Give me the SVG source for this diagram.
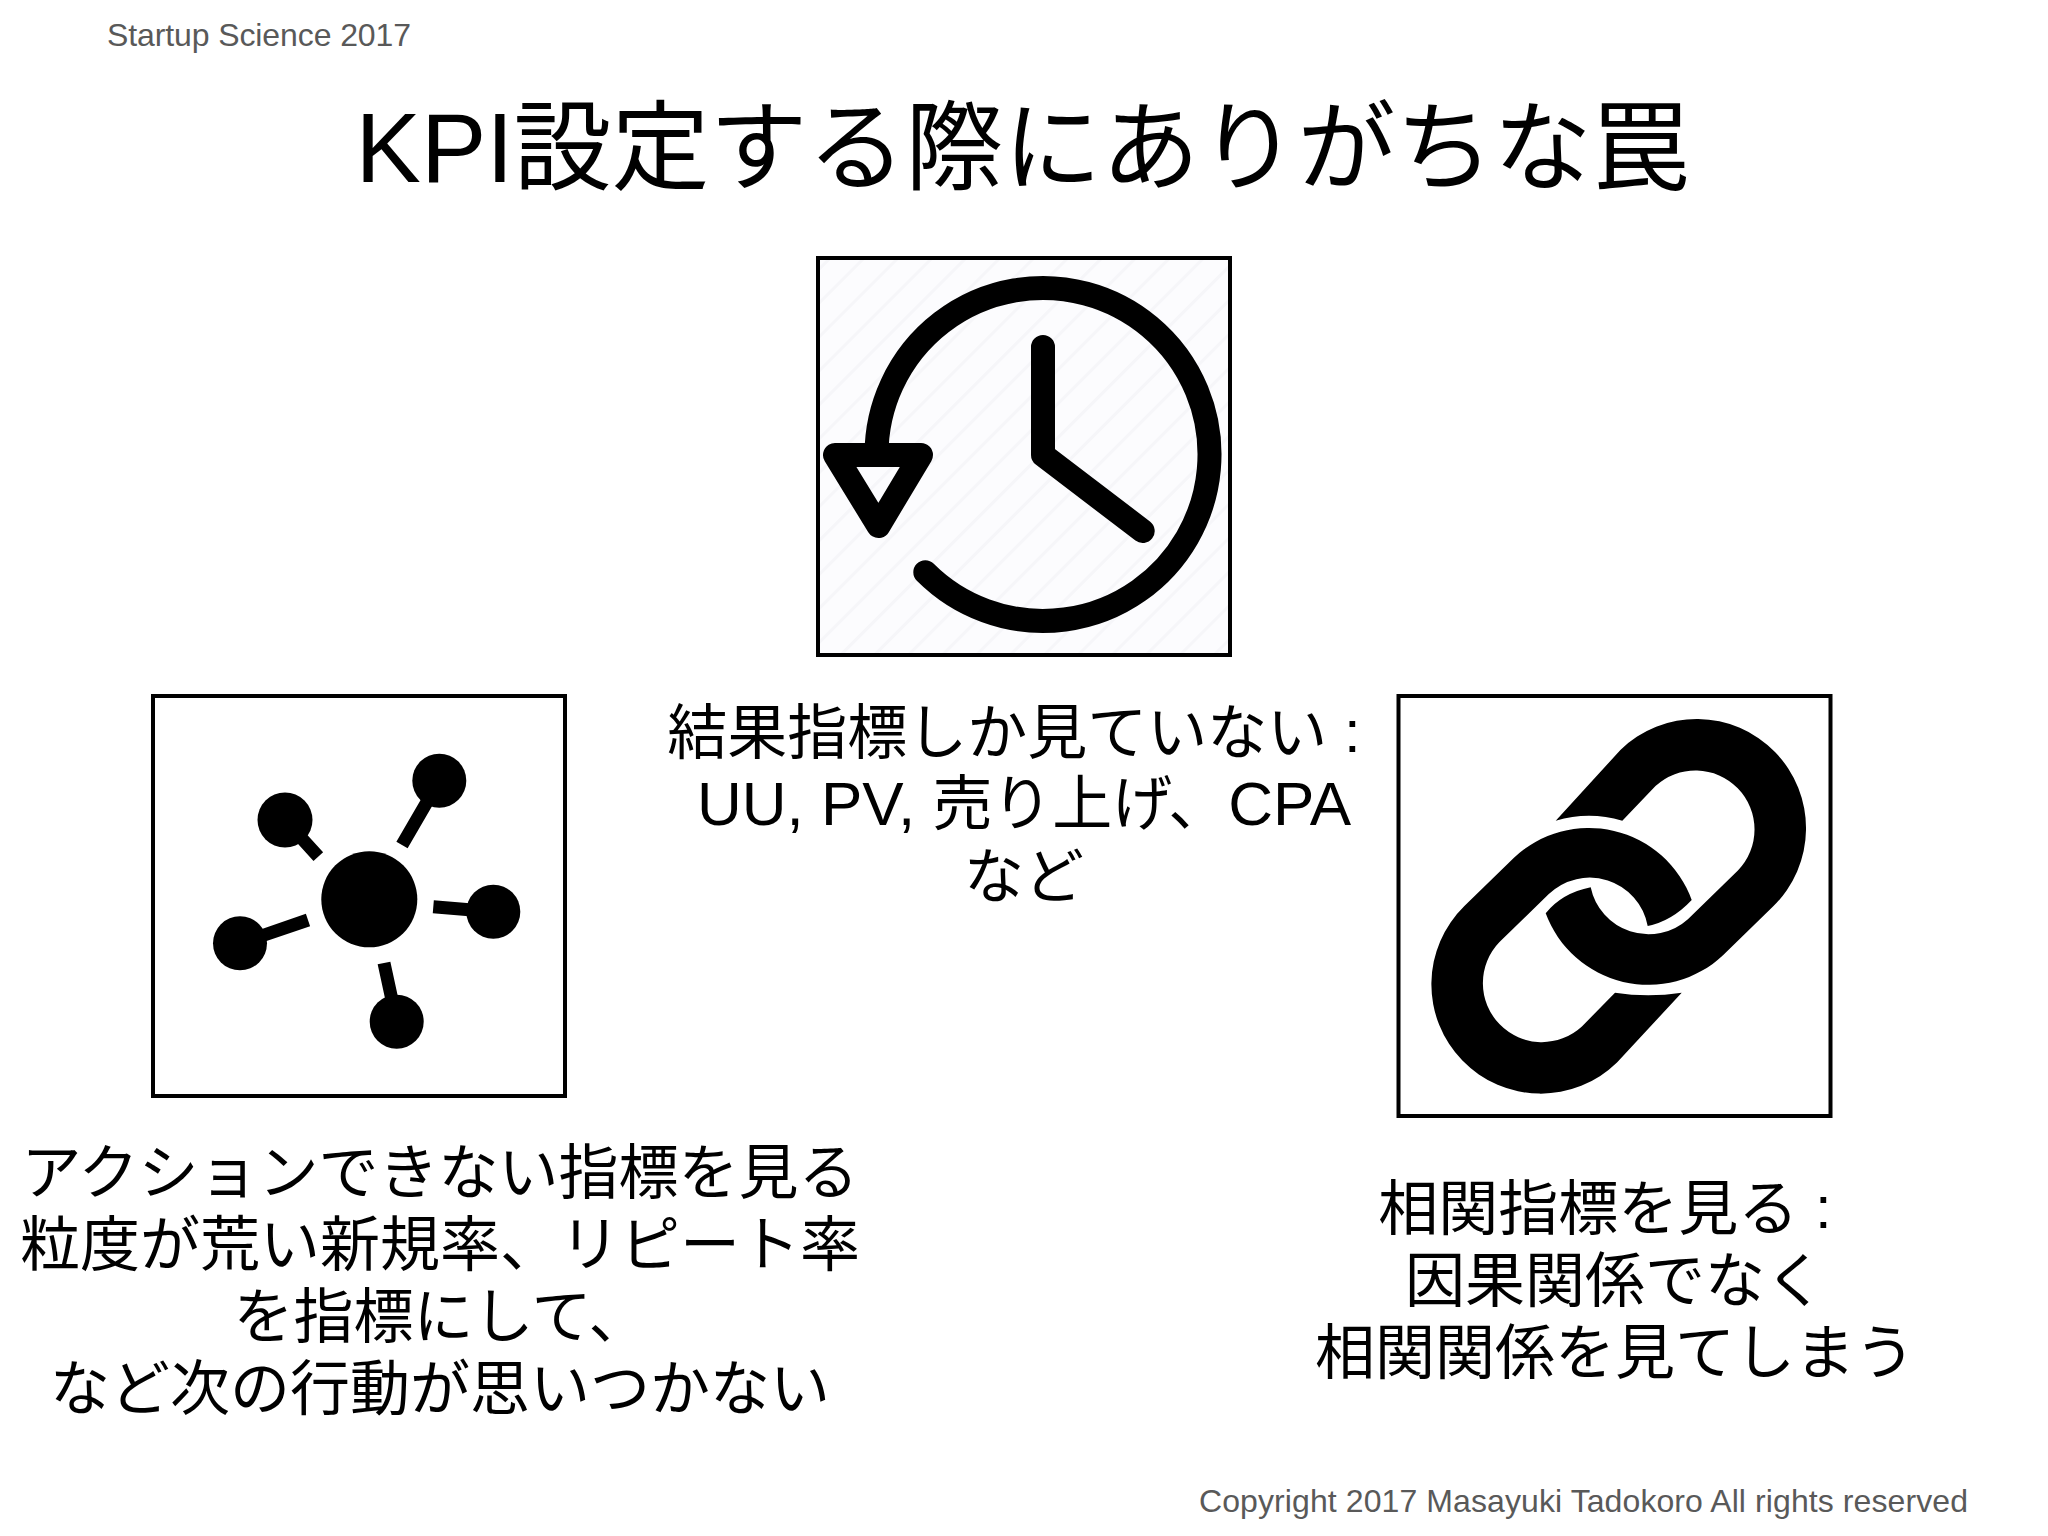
<svg xmlns="http://www.w3.org/2000/svg" width="2048" height="1536" viewBox="0 0 2048 1536">
<style>
text{font-family:"Liberation Sans","Noto Sans CJK JP",sans-serif;fill:#000}
.t{font-size:98px;text-anchor:middle}
.b{font-size:60px;text-anchor:middle}
.l{font-size:62px}
.s{font-size:32px;fill:#595959}
.box{fill:#fff;stroke:#000;stroke-width:4}
.hand{fill:none;stroke:#000;stroke-width:24;stroke-linecap:round;stroke-linejoin:round}
.spoke{stroke:#000;stroke-width:13;fill:none}
</style>
<defs>
<pattern id="stripe" width="24" height="24" patternUnits="userSpaceOnUse" patternTransform="rotate(-45)">
<rect width="24" height="24" fill="#fcfcfe"/><rect width="24" height="3" fill="#f6f6f9"/>
</pattern>
</defs>
<rect width="2048" height="1536" fill="#fff"/>
<text class="s" x="107" y="46" textLength="304">Startup Science 2017</text>
<text class="t" id="title" x="1022.5" y="182">KPI設定する際にありがちな罠</text>
<g id="clock">
<rect class="box" x="818" y="258" width="412" height="397" style="fill:url(#stripe)"/>
<path class="hand" d="M876.5 454.5A166.5 166.5 0 1 1 925.3 572.2"/>
<path class="hand" d="M835 455H921L878.5 526Z"/>
<path class="hand" d="M1043 347V455L1142.7 531"/>
</g>
<g id="network">
<rect class="box" x="153" y="696" width="412" height="400"/>
<circle cx="369.3" cy="899.3" r="48"/>
<circle cx="439.3" cy="780.7" r="27"/>
<circle cx="285" cy="820" r="27.5"/>
<circle cx="493.3" cy="911.7" r="27"/>
<circle cx="240" cy="943.3" r="27"/>
<circle cx="396.7" cy="1021.7" r="27"/>
<path class="spoke" d="M402 845L439.3 780.7M318.3 856.7L285 820M433.3 906.7L493.3 911.7M308 920L240 943.3M384 963L396.7 1021.7"/>
</g>
<g id="link">
<rect class="box" x="1398.5" y="696" width="432" height="420"/>
<path d="M1555.7 820.7L1620.4 750A109.3 109.3 0 0 1 1773 906.6L1723 955.3A109.3 109.3 0 0 1 1545.7 913.3Q1562 893 1590.7 887.3A59 59 0 0 0 1687.9 919.2L1737.9 870.5A59 59 0 0 0 1655.5 786.1L1622.3 820.7Q1589 811 1555.7 820.7Z"/>
<path d="M1681.7 992.7L1617 1062.6A109.3 109.3 0 0 1 1464.4 906L1513.7 858A109.3 109.3 0 0 1 1691.7 900Q1672 921 1647.7 926A59 59 0 0 0 1548.8 894.1L1499.5 942.1A59 59 0 0 0 1581.9 1026.5L1615 992.7Q1648 998 1681.7 992.7Z"/>
</g>
<g id="label-top">
<text class="b" x="1014" y="754" xml:space="preserve">結果指標しか見ていない <tspan dy="-2">:</tspan></text>
<text class="b" x="1024" y="825"><tspan class="l">UU, PV, </tspan>売り上げ、<tspan class="l">CPA</tspan></text>
<text class="b" x="1024" y="898">など</text>
</g>
<g id="label-left">
<text class="b" x="440" y="1194">アクションできない指標を見る</text>
<text class="b" x="440" y="1266">粒度が荒い新規率、リピート率</text>
<text class="b" x="441" y="1338">を指標にして、</text>
<text class="b" x="440" y="1410">など次の行動が思いつかない</text>
</g>
<g id="label-right">
<text class="b" x="1605" y="1230" xml:space="preserve">相関指標を見る <tspan dy="-2">:</tspan></text>
<text class="b" x="1615" y="1302">因果関係でなく</text>
<text class="b" x="1615" y="1374">相関関係を見てしまう</text>
</g>
<text class="s" x="1199" y="1512" textLength="769">Copyright 2017 Masayuki Tadokoro All rights reserved</text>
</svg>
